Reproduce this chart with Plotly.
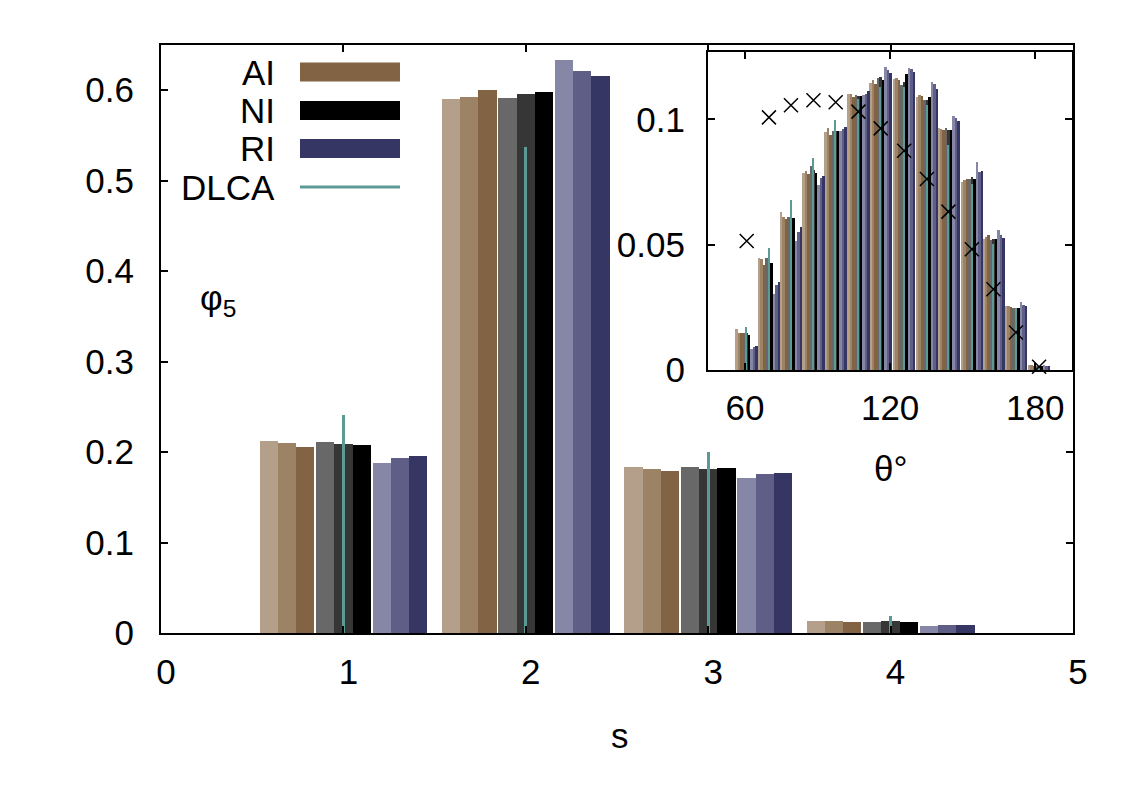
import numpy as np
import plotly.graph_objects as go

# ---------------- main panel data ----------------
s_vals = [1, 2, 3, 4]
main_AI = [
    [0.212, 0.590, 0.183, 0.0133],
    [0.210, 0.593, 0.181, 0.0133],
    [0.206, 0.600, 0.179, 0.0122],
]
main_NI = [
    [0.211, 0.591, 0.183, 0.0125],
    [0.209, 0.596, 0.181, 0.0130],
    [0.208, 0.598, 0.182, 0.0119],
]
main_RI = [
    [0.188, 0.633, 0.171, 0.0077],
    [0.194, 0.621, 0.176, 0.0092],
    [0.196, 0.616, 0.177, 0.0092],
]
main_DLCA = [0.241, 0.537, 0.200, 0.019]

# ---------------- inset data ----------------
theta = [60.7, 69.9, 79.0, 88.3, 97.5, 106.9, 116.1, 125.8, 135.2, 144.1, 153.8, 162.7, 172.0, 181.6]
ins_AI = [
    [0.0164, 0.0448, 0.0632, 0.0787, 0.0951, 0.1101, 0.1146, 0.1163, 0.1090, 0.0967, 0.0751, 0.0525, 0.0257, 0.0020],
    [0.0150, 0.0443, 0.0612, 0.0795, 0.0968, 0.1103, 0.1157, 0.1168, 0.1097, 0.0964, 0.0761, 0.0532, 0.0257, 0.0020],
    [0.0150, 0.0422, 0.0605, 0.0784, 0.0937, 0.1091, 0.1144, 0.1157, 0.1093, 0.0960, 0.0763, 0.0541, 0.0253, 0.0019],
]
ins_NI = [
    [0.0150, 0.0448, 0.0612, 0.0815, 0.0955, 0.1097, 0.1168, 0.1137, 0.1077, 0.0967, 0.0765, 0.0521, 0.0250, 0.0019],
    [0.0148, 0.0430, 0.0629, 0.0798, 0.0955, 0.1095, 0.1170, 0.1150, 0.1077, 0.0957, 0.0771, 0.0523, 0.0242, 0.0018],
    [0.0140, 0.0430, 0.0609, 0.0787, 0.0955, 0.1093, 0.1157, 0.1183, 0.1090, 0.0957, 0.0765, 0.0525, 0.0250, 0.0017],
]
ins_RI = [
    [0.0085, 0.0306, 0.0517, 0.0738, 0.0955, 0.1097, 0.1210, 0.1207, 0.1150, 0.1013, 0.0831, 0.0561, 0.0273, 0.0020],
    [0.0093, 0.0342, 0.0552, 0.0769, 0.0964, 0.1103, 0.1200, 0.1203, 0.1144, 0.1008, 0.0791, 0.0539, 0.0259, 0.0019],
    [0.0096, 0.0352, 0.0572, 0.0777, 0.0971, 0.1114, 0.1186, 0.1190, 0.1124, 0.0995, 0.0795, 0.0529, 0.0257, 0.0017],
]
ins_DLCA = [0.0173, 0.0487, 0.0680, 0.0848, 0.0997, 0.1084, 0.1130, 0.1130, 0.1060, 0.0900, 0.0745, 0.0505, 0.0250, 0.0015]
ins_cross = [0.0515, 0.1008, 0.1056, 0.1076, 0.1068, 0.1031, 0.0964, 0.0875, 0.0762, 0.0632, 0.0482, 0.0322, 0.0150, 0.0013]

main_xticks = [0, 1, 2, 3, 4, 5]
main_yticks = [0, 0.1, 0.2, 0.3, 0.4, 0.5, 0.6]
main_ytext = ["0", "0.1", "0.2", "0.3", "0.4", "0.5", "0.6"]
ins_xticks = [60, 120, 180]
ins_yticks = [0, 0.05, 0.1]
ins_ytext = ["0", "0.05", "0.1"]

# ---------------- styles ----------------
C_AI = ["#b4a08a", "#9c8366", "#826444"]
C_NI = ["#686868", "#363636", "#000000"]
C_RI = ["#8686a6", "#5e5e86", "#363664"]
C_DLCA = "#5c9b95"
FONT = "Liberation Sans, Arial, sans-serif"
FS = 35

W, H = 1125, 788
L, R, T, B = 161, 52, 45, 155
PW, PH = W - L - R, H - T - B


def px(x):
    return (x - L) / PW


def py(y):
    return (H - B - y) / PH


fig = go.Figure()

groups = [(main_AI, ins_AI, C_AI), (main_NI, ins_NI, C_NI), (main_RI, ins_RI, C_RI)]

# main bars
mw = 0.1
for g, (mdat, idat, cols) in enumerate(groups):
    for k in range(3):
        off = (g - 1) * 0.31 + (k - 1) * mw
        fig.add_trace(go.Bar(x=np.array(s_vals) + off, y=mdat[k], width=mw,
                             marker=dict(color=cols[k], line=dict(width=0)),
                             showlegend=False, xaxis="x", yaxis="y"))
fig.add_trace(go.Bar(x=s_vals, y=main_DLCA, width=0.017,
                     marker=dict(color=C_DLCA, line=dict(width=0)),
                     showlegend=False, xaxis="x", yaxis="y"))

# inset bars
iw = 1.03
for g, (mdat, idat, cols) in enumerate(groups):
    for k in range(3):
        off = (g - 1) * 3.1 + (k - 1) * iw
        fig.add_trace(go.Bar(x=np.array(theta) + off, y=idat[k], width=iw,
                             marker=dict(color=cols[k], line=dict(width=0)),
                             showlegend=False, xaxis="x2", yaxis="y2"))
fig.add_trace(go.Bar(x=theta, y=ins_DLCA, width=0.6,
                     marker=dict(color=C_DLCA, line=dict(width=0)),
                     showlegend=False, xaxis="x2", yaxis="y2"))
fig.add_trace(go.Scatter(x=theta, y=ins_cross, mode="markers",
                         marker=dict(symbol="x-thin", size=14, color="black",
                                     line=dict(width=1.5, color="black")),
                         showlegend=False, xaxis="x2", yaxis="y2", cliponaxis=False))

axis_common = dict(showline=True, linecolor="black", mirror="ticks", ticks="inside",
                   tickcolor="black", showgrid=False, zeroline=False,
                   tickfont=dict(family=FONT, size=FS, color="black"))

fig.update_layout(
    width=W, height=H,
    margin=dict(l=L, r=R, t=T, b=B),
    paper_bgcolor="white", plot_bgcolor="white",
    barmode="overlay", bargap=0,
    font=dict(family=FONT, size=FS, color="black"),
    xaxis=dict(range=[0, 5], tickvals=main_xticks, linewidth=2.2, ticklen=7, tickwidth=1.5,
               ticklabelstandoff=7, ticklabelshift=5, domain=[0, 1], anchor="y", **axis_common),
    yaxis=dict(range=[0, 0.65], tickvals=main_yticks, ticktext=main_ytext,
               linewidth=2.2, ticklen=7, tickwidth=1.5, ticklabelstandoff=18,
               domain=[0, 1], anchor="x", **axis_common),
    xaxis2=dict(range=[44.7, 195.2], tickvals=ins_xticks, linewidth=2.2, ticklen=7, tickwidth=1.5,
                ticklabelstandoff=6, domain=[px(708), px(1072)], anchor="y2", **axis_common),
    yaxis2=dict(range=[0, 0.127], tickvals=ins_yticks, ticktext=ins_ytext, linewidth=2.2, ticklen=7,
                tickwidth=1.5, ticklabelstandoff=14, domain=[py(370), py(51.7)], anchor="x2",
                **axis_common),
)

ann = []
ann.append(dict(text="s", x=px(620), y=py(735), xref="paper", yref="paper", showarrow=False,
                font=dict(family=FONT, size=FS), xanchor="center", yanchor="middle"))
ann.append(dict(text="θ°", x=px(890), y=py(468), xref="paper", yref="paper", showarrow=False,
                font=dict(family=FONT, size=FS), xanchor="center", yanchor="middle"))
ann.append(dict(text="φ<sub>5</sub>", x=px(218), y=py(300), xref="paper", yref="paper", showarrow=False,
                font=dict(family=FONT, size=FS), xanchor="center", yanchor="middle"))

# custom legend (label left of swatch)
leg_labels = ["AI", "NI", "RI", "DLCA"]
leg_cols = [C_AI[2], C_NI[2], C_RI[2], C_DLCA]
leg_y = [72, 110.5, 148.5, 187]
shapes = []
for lab, col, yy in zip(leg_labels, leg_cols, leg_y):
    ann.append(dict(text=lab, x=px(277), y=py(yy), xref="paper", yref="paper", showarrow=False,
                    font=dict(family=FONT, size=FS), xanchor="right", yanchor="middle"))
    hh = 1.5 if lab == "DLCA" else 9.5
    shapes.append(dict(type="rect", xref="paper", yref="paper", x0=px(300), x1=px(400),
                       y0=py(yy + hh), y1=py(yy - hh), fillcolor=col, line=dict(width=0)))

fig.update_layout(annotations=ann, shapes=shapes)
fig.write_html("out.html")
